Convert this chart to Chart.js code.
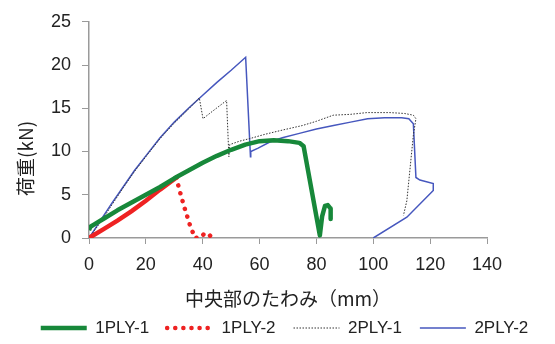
<!DOCTYPE html>
<html>
<head>
<meta charset="utf-8">
<script src="https://cdn.jsdelivr.net/npm/chart.js@4"></script>
<style>
  html, body { margin: 0; padding: 0; background: #fff; }
  #wrap { width: 555px; height: 344px; }
</style>
</head>
<body>
<div id="wrap"><canvas id="myChart" width="555" height="344"></canvas></div>
<script>
// 荷重-たわみ曲線 (4 試験体)

const seriesNames = ['1PLY-1', '1PLY-2', '2PLY-1', '2PLY-2'];
const xTicks = [0, 20, 40, 60, 80, 100, 120, 140];
const yTicks = [0, 5, 10, 15, 20, 25];

// 1PLY-1
const ply1a_x = [0, 0.5, 2, 5, 10, 15, 20, 25, 30, 35, 40, 45, 50, 55, 60, 65, 70, 74, 75.5, 81.2, 82, 83, 84, 85, 85];
const ply1a_y = [0.9, 1.3, 1.6, 2.2, 3.2, 4.1, 5.0, 5.9, 6.9, 7.8, 8.7, 9.5, 10.2, 10.8, 11.2, 11.3, 11.2, 11.0, 10.6, 0.3, 2.5, 3.7, 3.8, 3.4, 2.2];

// 1PLY-2
const ply1b_x = [0, 5, 10, 15, 20, 25, 30.8, 31.6, 33.5, 35.5, 37.3, 39.5, 40.5, 42, 43];
const ply1b_y = [0, 1.0, 2.0, 3.1, 4.3, 5.6, 7.0, 5.8, 3.6, 1.5, 0, 0.1, 0.5, 0.5, 0.1];

// 2PLY-1
const ply2a_x = [0, 4, 8, 12, 16, 20, 25, 30, 35, 38.8, 40.1, 44, 48.4, 49.2, 49.5, 53, 56.6, 62, 68.3, 75, 80, 85.9, 92, 97.7, 105.9, 111, 114.1, 115, 114.1, 111.8, 110.6];
const ply2a_y = [0, 1.8, 3.8, 5.8, 7.7, 9.4, 11.5, 13.3, 14.9, 16.2, 13.8, 14.8, 15.9, 9.4, 10.8, 11.2, 11.5, 12.0, 12.5, 13.0, 13.5, 14.2, 14.3, 14.5, 14.5, 14.4, 14.2, 13.8, 11.9, 4.3, 2.6];

// 2PLY-2
const ply2b_x = [0, 4, 8, 12, 16, 20, 25, 30, 35, 40, 45, 50, 55.1, 56.8, 56.9, 59.5, 63.6, 68, 74, 80, 86, 92, 98, 104, 110, 112.5, 114.1, 115, 116.4, 121.1, 121.1, 111.8, 100];
const ply2b_y = [0, 2.0, 4.0, 5.9, 7.8, 9.5, 11.6, 13.4, 15.0, 16.5, 18.0, 19.4, 20.9, 9.4, 10.0, 10.4, 11.1, 11.6, 12.1, 12.6, 13.0, 13.4, 13.8, 13.9, 13.9, 13.8, 13.2, 7.0, 6.7, 6.3, 5.5, 2.4, 0];

function pts(xs, ys) {
  return xs.map((x, i) => ({ x: x, y: ys[i] }));
}

const fontJP = "'Noto Sans CJK JP', 'Noto Sans', sans-serif";
const fontNum = "'Liberation Sans', Arial, sans-serif";

const ctx = document.getElementById('myChart');

new Chart(ctx, {
  type: 'scatter',
  data: {
    datasets: [
      {
        label: seriesNames[0],
        data: pts(ply1a_x, ply1a_y),
        showLine: true,
        borderColor: '#17883a',
        backgroundColor: '#17883a',
        borderWidth: 4.5,
        borderJoinStyle: 'round',
        pointRadius: 0
      },
      {
        label: seriesNames[1],
        data: pts(ply1b_x, ply1b_y),
        showLine: true,
        borderColor: '#ee2222',
        backgroundColor: '#ee2222',
        borderWidth: 4.5,
        borderDash: [0.1, 8],
        borderCapStyle: 'round',
        pointRadius: 0,
        segment: {
          // 最大荷重までは実線、以降は点線
          borderDash: c => c.p0DataIndex < 6 ? [] : undefined
        }
      },
      {
        label: seriesNames[2],
        data: pts(ply2a_x, ply2a_y),
        showLine: true,
        borderColor: '#333333',
        backgroundColor: '#333333',
        borderWidth: 1,
        borderDash: [1.5, 1.5],
        pointRadius: 0
      },
      {
        label: seriesNames[3],
        data: pts(ply2b_x, ply2b_y),
        showLine: true,
        borderColor: '#4657be',
        backgroundColor: '#4657be',
        borderWidth: 1.5,
        pointRadius: 0
      }
    ]
  },
  options: {
    responsive: false,
    animation: false,
    layout: { padding: { left: 14, right: 0, top: 18, bottom: -2.5 } },
    plugins: {
      tooltip: { enabled: false },
      legend: {
        position: 'bottom',
        labels: {
          usePointStyle: true,
          pointStyle: 'line',
          pointStyleWidth: 46,
          padding: 18,
          color: '#222',
          font: { family: fontNum, size: 17 },
          generateLabels: chart => {
            const items = Chart.defaults.plugins.legend.labels.generateLabels(chart);
            items.forEach(it => {
              const ds = chart.data.datasets[it.datasetIndex];
              it.lineWidth = ds.borderWidth;
              it.lineDash = ds.borderDash || [];
              it.lineCap = ds.borderCapStyle || 'butt';
              it.strokeStyle = ds.borderColor;
            });
            return items;
          }
        }
      }
    },
    scales: {
      x: {
        type: 'linear',
        min: 0,
        max: 140,
        afterBuildTicks: s => { s.ticks = xTicks.map(v => ({ value: v })); },
        afterFit: s => { s.height = 63.5; },
        grid: { drawOnChartArea: false, drawTicks: true, tickLength: 6, color: '#9a9a9a' },
        border: { color: '#9a9a9a', width: 1.5 },
        ticks: { color: '#222', padding: 10, maxRotation: 0, font: { family: fontNum, size: 18 } },
        title: {
          display: true,
          text: '中央部のたわみ（mm）',
          color: '#222',
          padding: { top: 0, bottom: -9 },
          font: { family: fontJP, size: 19 }
        }
      },
      y: {
        type: 'linear',
        min: 0,
        max: 25,
        afterBuildTicks: s => { s.ticks = yTicks.map(v => ({ value: v })); },
        afterFit: s => { s.width = 75; },
        grid: { drawOnChartArea: false, drawTicks: true, tickLength: 7, color: '#9a9a9a' },
        border: { color: '#9a9a9a', width: 1.5 },
        ticks: { color: '#222', padding: 11, font: { family: fontNum, size: 18 } },
        title: {
          display: true,
          text: '荷重(kN)\u3000\u3000\u3000',
          color: '#222',
          padding: { top: 0, bottom: 0 },
          font: { family: fontJP, size: 19 }
        }
      },
      // 右側の余白用（表示なし）
      r: {
        type: 'linear',
        position: 'right',
        afterBuildTicks: s => { s.ticks = []; },
        afterFit: s => { s.width = 68; },
        grid: { display: false },
        border: { display: false },
        ticks: { display: false }
      }
    }
  }
});
</script>
</body>
</html>
